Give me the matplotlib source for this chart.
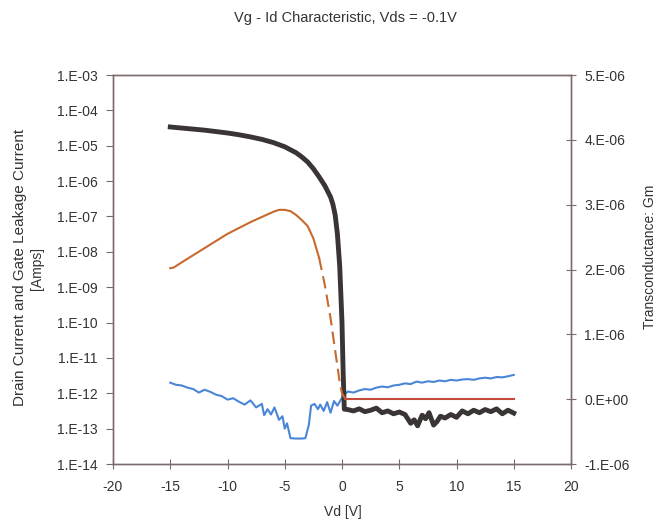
#Vg - Id characteristic: drain current, gate leakage (log, left) and Gm (linear, right)
import matplotlib
matplotlib.use('Agg')
import matplotlib.pyplot as plt
import numpy as np
from matplotlib.ticker import FuncFormatter, FixedLocator

plt.rcParams['font.family'] = ['Liberation Sans', 'DejaVu Sans']
plt.rcParams['axes.unicode_minus'] = False

#Drain current, log10 of amps
id_x = [-15, -14, -13, -12, -11, -10, -9, -8, -7, -6, -5, -4, -3.5, -3, -2.5, -2, -1.5, -1,
        -0.8, -0.6, -0.4, -0.2, 0.0, 0.1, 0.2,
        0.5, 1.0, 1.5, 2.0, 2.5, 3.0, 3.5, 4.0, 4.5, 5.0, 5.5, 6.0, 6.3, 6.6, 7.0, 7.3, 7.6,
        8.0, 8.3, 8.6, 9.0, 9.5, 10.0, 10.5, 11.0, 11.5, 12.0, 12.5, 13.0, 13.5, 14.0, 14.5, 15.0]
id_log = [-4.47, -4.50, -4.53, -4.56, -4.60, -4.64, -4.69, -4.75, -4.82, -4.91, -5.03, -5.20, -5.32,
          -5.46, -5.65, -5.88, -6.13, -6.45, -6.65, -6.95, -7.5, -8.4, -10.0, -11.4, -12.45,
          -12.46, -12.50, -12.44, -12.52, -12.48, -12.42, -12.55, -12.50, -12.58, -12.53, -12.60,
          -12.85, -12.75, -12.92, -12.62, -12.72, -12.55, -12.90, -12.80, -12.65, -12.70, -12.60,
          -12.68, -12.50, -12.58, -12.48, -12.55, -12.46, -12.52, -12.44, -12.58, -12.48, -12.56]

#Gate leakage current, log10 of amps
ig_x = [-15, -14.5, -14, -13.5, -13, -12.5, -12, -11.5, -11, -10.5, -10, -9.5, -9, -8.5, -8, -7.5,
        -7, -6.8, -6.5, -6.2, -5.9, -5.5, -5.2, -5, -4.8, -4.5, -4, -3.5, -3.2, -2.9, -2.7, -2.4,
        -2.1, -1.9, -1.6, -1.3, -1.0, -0.7, -0.4, -0.1, 0.2, 0.5, 1.0, 1.5, 2.0, 2.5, 3.0, 3.5,
        4.0, 4.5, 5.0, 5.5, 6.0, 6.5, 7.0, 7.5, 8.0, 8.5, 9.0, 9.5, 10.0, 10.5, 11.0, 11.5, 12.0,
        12.5, 13.0, 13.5, 14.0, 14.5, 15.0]
ig_log = [-11.70, -11.76, -11.78, -11.84, -11.88, -11.98, -11.90, -11.96, -12.04, -12.08, -12.18,
          -12.14, -12.24, -12.32, -12.20, -12.40, -12.30, -12.62, -12.45, -12.60, -12.40, -12.75,
          -12.65, -13.00, -12.85, -13.27, -13.28, -13.28, -13.27, -12.90, -12.35, -12.30, -12.45,
          -12.32, -12.50, -12.25, -12.55, -12.22, -12.35, -12.18, -12.05, -11.95, -11.98, -11.92,
          -11.88, -11.90, -11.84, -11.81, -11.83, -11.78, -11.76, -11.72, -11.74, -11.67, -11.70,
          -11.66, -11.68, -11.64, -11.66, -11.62, -11.64, -11.61, -11.60, -11.62, -11.58, -11.56,
          -11.58, -11.54, -11.55, -11.52, -11.48]

#Transconductance Gm, in 1e-6 S
gm_x_solid = [-15, -14.7, -14, -13, -12, -11, -10, -9, -8, -7, -6, -5.5, -5, -4.5, -4, -3.5, -3, -2.5, -2]
gm_solid = [2.02, 2.03, 2.11, 2.22, 2.33, 2.44, 2.55, 2.64, 2.73, 2.81, 2.89, 2.92, 2.92, 2.90,
            2.84, 2.76, 2.67, 2.48, 2.18]
gm_x_dash = [-2, -1.5, -1, -0.5, -0.2, 0.0, 0.3]
gm_dash = [2.18, 1.76, 1.25, 0.63, 0.26, 0.09, 0.0]
gm_x_flat = [0.3, 15]
gm_flat = [0.0, 0.0]

def sci(v, pos):
    s = '%.0E' % v
    return s.replace('E', '.E')

fig = plt.figure(figsize=(6.56, 5.24), dpi=100)
ax = fig.add_axes([113/656, 1-464/524, 458/656, 389/524])
ax2 = ax.twinx()

axcol = '#7d6b6b'
ax.plot(ig_x, 10**np.array(ig_log), color='#4a86d8', lw=1.5, zorder=3)
ax.plot(id_x, 10**np.array(id_log), color='#3a3434', lw=3.5, zorder=4, solid_joinstyle='round')
ax2.plot(gm_x_solid, np.array(gm_solid)*1e-6, color='#c8692d', lw=1.5)
ax2.plot(gm_x_dash, np.array(gm_dash)*1e-6, color='#c8692d', lw=1.5, ls=(0, (6, 3)))
ax2.plot(gm_x_flat, np.array(gm_flat)*1e-6, color='#c44b3a', lw=1.5)

ax.set_yscale('log')
ax.set_ylim(1e-14, 1e-3)
ax.set_xlim(-20, 20)
ax.yaxis.set_major_locator(FixedLocator([10.0**k for k in range(-14, -2)]))
ax.yaxis.set_minor_locator(FixedLocator([]))
ax.yaxis.set_major_formatter(FuncFormatter(sci))
ax.set_xticks(range(-20, 21, 5))

ax2.set_ylim(-1e-6, 5e-6)
ax2.set_yticks([k*1e-6 for k in range(-1, 6)])
ax2.yaxis.set_major_formatter(FuncFormatter(sci))

for a in (ax, ax2):
    for s in a.spines.values():
        s.set_color(axcol)
        s.set_linewidth(1.0)
ax.tick_params(axis='y', direction='out', length=5, color=axcol, labelsize=10, labelcolor='#333333', pad=6)
ax.tick_params(axis='x', direction='inout', length=7, color=axcol, labelsize=10, labelcolor='#333333', pad=8)
ax2.tick_params(axis='y', direction='inout', length=7, color=axcol, labelsize=10, labelcolor='#333333', pad=6)

fig.text(345/656, 1-18/524, 'Vg - Id Characteristic, Vds = -0.1V', ha='center', va='center', fontsize=10.5, color='#333333')
fig.text(20/656, 1-267/524, 'Drain Current and Gate Leakage Current', rotation=90, ha='center', va='center', fontsize=11, color='#333333')
fig.text(37/656, 1-268/524, '[Amps]', rotation=90, ha='center', va='center', fontsize=10, color='#333333')
fig.text(650/656, 1-257/524, 'Transconductance: Gm', rotation=90, ha='center', va='center', fontsize=10, color='#333333')
fig.text(343/656, 1-512/524, 'Vd [V]', ha='center', va='center', fontsize=10, color='#333333')

fig.savefig('out.png', dpi=100)
